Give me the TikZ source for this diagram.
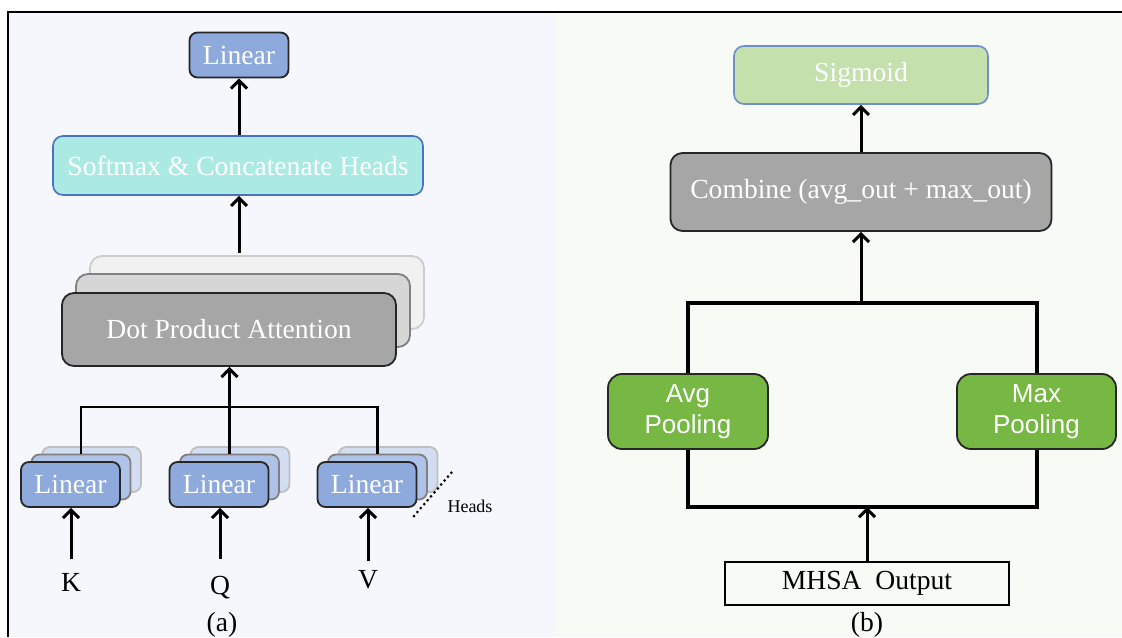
\documentclass[tikz,border=0pt]{standalone}
\usepackage{fontspec}
\setmainfont{Liberation Serif}
\newfontfamily\poolfont{Liberation Sans}
\usepackage{tikz}
\usetikzlibrary{arrows.meta}
\definecolor{leftbg}{HTML}{F5F7FC}
\definecolor{rightbg}{HTML}{F8FAF5}
\definecolor{linblue}{HTML}{8EA9DB}
\definecolor{linmidc}{HTML}{AFC2E7}
\definecolor{linbackc}{HTML}{D3DDF2}
\definecolor{softc}{HTML}{ABE9E3}
\definecolor{edgeblue}{HTML}{4A72C0}
\definecolor{greyc}{HTML}{A6A6A6}
\definecolor{greymid}{HTML}{D6D6D6}
\definecolor{greyback}{HTML}{F1F1F1}
\definecolor{sigc}{HTML}{C4E0AC}
\definecolor{poolc}{HTML}{76B843}
\tikzset{
  box/.style={draw, align=center, text=white, inner sep=0pt, font=\fontsize{13.8}{16}\selectfont},
  linbox/.style={box, rounded corners=4pt, fill=linblue, draw=black!85, line width=0.9pt, minimum width=49.5pt, minimum height=22.5pt},
  linmid/.style={linbox, fill=linmidc, draw=black!50},
  linback/.style={linbox, fill=linbackc, draw=black!25},
  dotbox/.style={box, rounded corners=6pt, fill=greyc, draw=black!85, line width=0.9pt, minimum width=167pt, minimum height=36.5pt},
  dotmid/.style={dotbox, fill=greymid, draw=black!50},
  dotback/.style={dotbox, fill=greyback, draw=black!20},
  arr/.style={line width=1.5pt, -{Straight Barb[length=4pt,width=8pt]}},
  bus/.style={line width=1.3pt},
  thickbus/.style={line width=2pt},
  lbl/.style={font=\fontsize{13.8}{16}\selectfont}
}
\begin{document}
\begin{tikzpicture}[x=0.5pt, y=-0.5pt]
\useasboundingbox (0,0) rectangle (1122,637);
% Panels and frame
\fill[white] (0,0) rectangle (1122,637);
\fill[leftbg] (8,12) rectangle (555,637);
\fill[rightbg] (555,12) rectangle (1122,637);
\draw[line width=1pt] (8,637) -- (8,12) -- (1122,12);

% (a) multi-head attention
\node[linbox] (outlin) at (239,55) {Linear};
\node[box, rounded corners=5pt, fill=softc, draw=edgeblue, line width=0.8pt, minimum width=185pt, minimum height=29.5pt] (softmax) at (238,165.5) {Softmax \& Concatenate Heads};
% Attention heads stacked
\node[dotback] (dotb) at (257,292.5) {};
\node[dotmid] (dotm) at (243,310.5) {};
\node[dotbox] (dot) at (229,329.5) {Dot Product Attention};
% Linear projections (three heads each)
\foreach \n/\x in {k/70.5, q/219, v/367} {
  \node[linback] (\n back) at (\x+21,469.5) {};
  \node[linmid] (\n mid) at (\x+10.5,477) {};
  \node[linbox] (\n lin) at (\x,484.5) {Linear};
}
% Inputs
\node[lbl] (klab) at (71,582) {K};
\node[lbl] (qlab) at (220,588) {Q};
\node[lbl] (vlab) at (368,580) {V};
\coordinate (kin) at (71,559);
\coordinate (qin) at (220,559);
\coordinate (vin) at (368,561);
\draw[arr] (kin) -- (kin |- klin.south);
\draw[arr] (qin) -- (qin |- qlin.south);
\draw[arr] (vin) -- (vin |- vlin.south);
% Bus into attention
\coordinate (abus) at (229,407);
\draw[bus] (kmid.north) -- (kmid.north |- abus) -- (vmid.north |- abus) -- (vmid.north);
\draw[arr] (qmid.north) -- (qmid.north |- dot.south);
% Up to output
\coordinate (dtop) at (239,253);
\draw[arr] (dtop) -- (dtop |- softmax.south);
\draw[arr] (softmax.north -| outlin) -- (outlin.south);
% Heads marker
\coordinate (hd1) at (414,516);
\coordinate (hd2) at (452,472);
\draw[line width=1.5pt, line cap=round, dash pattern=on 0pt off 2.6pt] (hd1) -- (hd2);
\node[font=\fontsize{9}{10}\selectfont] (heads) at (470,506) {Heads};
\node[lbl] (capa) at (222,625) {(a)};

% (b) pooling branch
\node[box, rounded corners=5pt, fill=sigc, draw=edgeblue!80, line width=0.8pt, minimum width=127pt, minimum height=29pt] (sigmoid) at (861,75) {Sigmoid};
\node[box, rounded corners=6pt, fill=greyc, draw=black!85, line width=0.9pt, minimum width=190.5pt, minimum height=39pt] (combine) at (861,192) {Combine (avg\_out + max\_out)};
\node[box, rounded corners=7pt, fill=poolc, draw=black!85, line width=0.9pt, minimum width=80pt, minimum height=37.5pt, font=\poolfont\fontsize{13}{15.5}\selectfont] (avgpool) at (688,411.5) {Avg\\Pooling};
\node[box, rounded corners=7pt, fill=poolc, draw=black!85, line width=0.9pt, minimum width=79.5pt, minimum height=37.5pt, font=\poolfont\fontsize{13}{15.5}\selectfont] (maxpool) at (1036.5,411.5) {Max\\Pooling};
\node[draw, line width=0.8pt, minimum width=142pt, minimum height=21.5pt, inner sep=0pt, lbl] (mhsa) at (867,583.5) {MHSA~~Output};
\coordinate (topbus) at (861,303);
\coordinate (botbus) at (867,507);
\draw[arr] (combine.north) -- (sigmoid.south);
\draw[thickbus] (avgpool.north) -- (avgpool.north |- topbus) -- (maxpool.north |- topbus) -- (maxpool.north);
\draw[arr] (topbus) -- (topbus |- combine.south);
\draw[thickbus] (avgpool.south) -- (avgpool.south |- botbus) -- (maxpool.south |- botbus) -- (maxpool.south);
\draw[arr] (mhsa.north) -- (botbus);
\node[lbl] (capb) at (867,625) {(b)};
\end{tikzpicture}
\end{document}
